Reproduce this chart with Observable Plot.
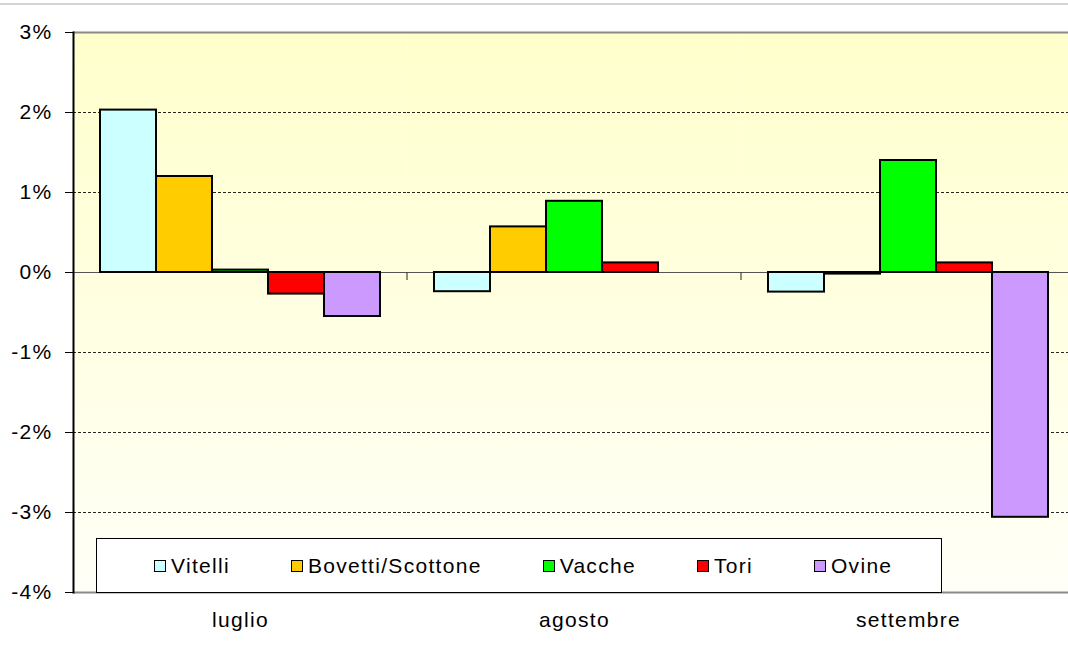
<!DOCTYPE html>
<html>
<head>
<meta charset="utf-8">
<script src="https://cdn.jsdelivr.net/npm/d3@7"></script>
<script src="https://cdn.jsdelivr.net/npm/@observablehq/plot@0.6"></script>
<style>
  html, body { margin: 0; padding: 0; background: #fff; overflow: hidden; }
  #wrap { position: relative; width: 1068px; height: 646px; overflow: hidden; font-family: "Liberation Sans", Arial, sans-serif; }
  #chart svg { max-width: none !important; display: block; }
  #topline { position: absolute; left: 0; top: 3px; width: 1068px; height: 0; border-top: 2px solid #d4d4d4; }
  #legend { position: absolute; left: 96px; top: 538px; width: 846px; height: 55px; border: 1.5px solid #000; background: #fff;
            display: flex; align-items: center; gap: 61px; padding-left: 57px; box-sizing: border-box; }
  .item { display: flex; align-items: center; font-size: 21px; letter-spacing: 1.3px; color: #000; white-space: nowrap; }
  .sw { width: 10px; height: 10px; border: 1.6px solid #000; margin-right: 5px; }
</style>
</head>
<body>
<div id="wrap">
  <div id="chart"></div>
  <div id="topline"></div>
  <div id="legend"></div>
</div>
<script>
const months = ["luglio", "agosto", "settembre"];
const series = ["Vitelli", "Bovetti/Scottone", "Vacche", "Tori", "Ovine"];
const colors = ["#CCFFFF", "#FFCC00", "#00FF00", "#FF0000", "#CC99FF"];
const vitelli = [2.03, -0.24, -0.245];
const bovetti = [1.2, 0.57, -0.02];
const vacche = [0.03, 0.89, 1.40];
const tori = [-0.27, 0.12, 0.12];
const ovine = [-0.55, null, -3.06];
const yTicks = [-4, -3, -2, -1, 0, 1, 2, 3];
const gridTicks = [-3, -2, -1, 1, 2];

const valuesBySeries = [vitelli, bovetti, vacche, tori, ovine];
const data = [];
series.forEach((s, si) => months.forEach((m, mi) => {
  const v = valuesBySeries[si][mi];
  if (v != null) data.push({month: m, series: s, value: v});
}));

const chart = Plot.plot({
  width: 1075,
  height: 646,
  marginLeft: 73,
  marginRight: 0,
  marginTop: 32,
  marginBottom: 54,
  style: {fontFamily: "Liberation Sans, Arial, sans-serif", fontSize: "21px", color: "#000", background: "transparent", maxWidth: "none", letterSpacing: "1.3px"},
  fx: {domain: months, paddingInner: 0, paddingOuter: 0, label: null},
  x: {domain: series, paddingInner: 0, paddingOuter: 0.482, axis: null},
  y: {domain: [-4, 3], label: null},
  color: {domain: series, range: colors},
  marks: [
    Plot.frame({fill: "url(#bggrad)", stroke: null}),
    Plot.ruleY(gridTicks, {stroke: "#000", strokeWidth: 1, strokeDasharray: "3,2", strokeOpacity: 0.85}),
    Plot.ruleY([3, -4], {stroke: "#8a8a8a", strokeWidth: 2}),
    Plot.ruleY([0], {stroke: "#555", strokeWidth: 1.2}),
    Plot.barY(data, {fx: "month", x: "series", y: "value", fill: "series", stroke: "#000", strokeWidth: 2}),
    Plot.frame({anchor: "left", facetAnchor: "left", stroke: "#000", strokeWidth: 2}),
    Plot.axisY({ticks: yTicks, tickSize: 8, tickPadding: 13, tickFormat: d => d + "%", fontSize: 21, label: null, stroke: "#000"}),
    Plot.axisFx({anchor: "bottom", tickSize: 0, tickPadding: 20, fontSize: 21, label: null})
  ]
});

document.getElementById("chart").appendChild(chart);

// gradient background definition
const svg = d3.select(chart.tagName.toLowerCase() === "svg" ? chart : chart.querySelector("svg"));
const defs = svg.insert("defs", ":first-child");
const grad = defs.append("linearGradient").attr("id", "bggrad").attr("x1", 0).attr("y1", 0).attr("x2", 0).attr("y2", 1);
grad.append("stop").attr("offset", "0%").attr("stop-color", "#FFFFCC");
grad.append("stop").attr("offset", "100%").attr("stop-color", "#FFFFF8");

// category separator ticks below the zero line, at band boundaries from the fx scale
const fx = chart.scale("fx");
const ys = chart.scale("y");
const y0 = ys.apply(0);
months.slice(1).forEach(m => {
  const xb = fx.apply(m);
  svg.append("line").attr("x1", xb).attr("x2", xb).attr("y1", y0).attr("y2", y0 + 8)
    .attr("stroke", "#444").attr("stroke-width", 1.2);
});

// legend
const legend = document.getElementById("legend");
series.forEach((s, i) => {
  const it = document.createElement("div");
  it.className = "item";
  it.innerHTML = `<span class="sw" style="background:${colors[i]}"></span><span>${s}</span>`;
  legend.appendChild(it);
});
</script>
</body>
</html>
